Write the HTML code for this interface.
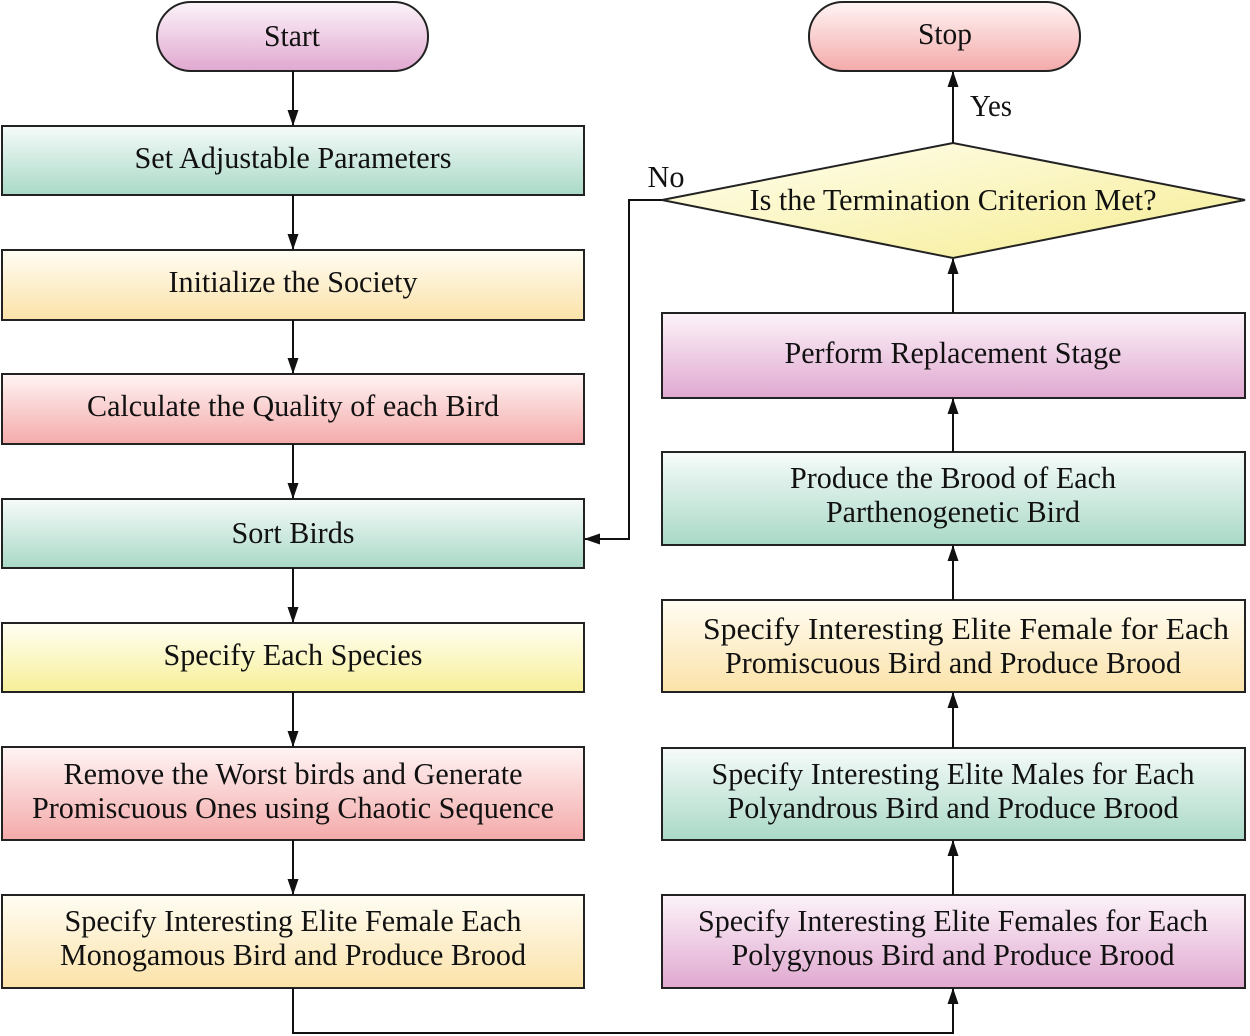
<!DOCTYPE html>
<html><head><meta charset="utf-8"><style>
html,body{margin:0;padding:0;background:#fff}
svg{display:block}
text{font-family:"Liberation Serif",serif;font-size:31px;fill:#111;text-anchor:middle}
</style></head><body>
<svg width="1250" height="1036" viewBox="0 0 1250 1036" xmlns="http://www.w3.org/2000/svg">
<defs>
<linearGradient id="g" x1="0" y1="0" x2="0" y2="1"><stop offset="0" stop-color="#f6fbf9"/><stop offset="1" stop-color="#a9d9c7"/></linearGradient>
<linearGradient id="o" x1="0" y1="0" x2="0" y2="1"><stop offset="0" stop-color="#fffdf4"/><stop offset="1" stop-color="#fbe2a8"/></linearGradient>
<linearGradient id="r" x1="0" y1="0" x2="0" y2="1"><stop offset="0" stop-color="#fff4f4"/><stop offset="1" stop-color="#f4aaaa"/></linearGradient>
<linearGradient id="p" x1="0" y1="0" x2="0" y2="1"><stop offset="0" stop-color="#fcf3f9"/><stop offset="1" stop-color="#e0a8d0"/></linearGradient>
<linearGradient id="y" x1="0" y1="0" x2="0" y2="1"><stop offset="0" stop-color="#fffff4"/><stop offset="1" stop-color="#f7ef98"/></linearGradient>
<linearGradient id="yd" x1="0" y1="0" x2="1" y2="1"><stop offset="0" stop-color="#fffff2"/><stop offset="1" stop-color="#f6ec90"/></linearGradient>
<marker id="a" markerWidth="16" markerHeight="14" refX="15" refY="7" orient="auto" markerUnits="userSpaceOnUse"><path d="M0,1.5 L16,7 L0,12.5 z" fill="#111"/></marker>
</defs>
<g stroke="#222" stroke-width="2">
<rect x="157" y="2" width="271" height="69" rx="34" fill="url(#p)"/>
<rect x="809" y="2" width="271" height="69" rx="34" fill="url(#r)"/>
<rect x="2" y="126" width="582" height="69" fill="url(#g)"/>
<rect x="2" y="250" width="582" height="70" fill="url(#o)"/>
<rect x="2" y="374" width="582" height="70" fill="url(#r)"/>
<rect x="2" y="499" width="582" height="69" fill="url(#g)"/>
<rect x="2" y="623" width="582" height="69" fill="url(#y)"/>
<rect x="2" y="747" width="582" height="93" fill="url(#r)"/>
<rect x="2" y="895" width="582" height="93" fill="url(#o)"/>
<polygon points="662,200 953,143 1245,200 953,258" fill="url(#yd)"/>
<rect x="662" y="313" width="583" height="85" fill="url(#p)"/>
<rect x="662" y="452" width="583" height="93" fill="url(#g)"/>
<rect x="662" y="600" width="583" height="92" fill="url(#o)"/>
<rect x="662" y="748" width="583" height="92" fill="url(#g)"/>
<rect x="662" y="895" width="583" height="93" fill="url(#p)"/>
</g>
<g stroke="#111" stroke-width="2" fill="none" marker-end="url(#a)">
<line x1="293" y1="71" x2="293" y2="125"/>
<line x1="293" y1="195" x2="293" y2="249"/>
<line x1="293" y1="320" x2="293" y2="373"/>
<line x1="293" y1="444" x2="293" y2="498"/>
<line x1="293" y1="568" x2="293" y2="622"/>
<line x1="293" y1="692" x2="293" y2="746"/>
<line x1="293" y1="840" x2="293" y2="894"/>
<polyline points="293,988 293,1033 953,1033 953,989"/>
<line x1="953" y1="895" x2="953" y2="841"/>
<line x1="953" y1="748" x2="953" y2="693"/>
<line x1="953" y1="600" x2="953" y2="546"/>
<line x1="953" y1="452" x2="953" y2="399"/>
<line x1="953" y1="313" x2="953" y2="259"/>
<line x1="953" y1="143" x2="953" y2="72"/>
<polyline points="662,200 629,200 629,539 585,539"/>
</g>
<g lengthAdjust="spacingAndGlyphs">
<text x="292" y="46" textLength="56" lengthAdjust="spacingAndGlyphs">Start</text>
<text x="945" y="44" textLength="54" lengthAdjust="spacingAndGlyphs">Stop</text>
<text x="293" y="168" textLength="317" lengthAdjust="spacingAndGlyphs">Set Adjustable Parameters</text>
<text x="293" y="292" textLength="249" lengthAdjust="spacingAndGlyphs">Initialize the Society</text>
<text x="293" y="416" textLength="412" lengthAdjust="spacingAndGlyphs">Calculate the Quality of each Bird</text>
<text x="293" y="543" textLength="123" lengthAdjust="spacingAndGlyphs">Sort Birds</text>
<text x="293" y="665" textLength="259" lengthAdjust="spacingAndGlyphs">Specify Each Species</text>
<text x="293" y="784" textLength="459" lengthAdjust="spacingAndGlyphs">Remove the Worst birds and Generate</text>
<text x="293" y="818" textLength="522" lengthAdjust="spacingAndGlyphs">Promiscuous Ones using Chaotic Sequence</text>
<text x="293" y="931" textLength="457" lengthAdjust="spacingAndGlyphs">Specify Interesting Elite Female Each</text>
<text x="293" y="965" textLength="466" lengthAdjust="spacingAndGlyphs">Monogamous Bird and Produce Brood</text>
<text x="953" y="210" textLength="407" lengthAdjust="spacingAndGlyphs">Is the Termination Criterion Met?</text>
<text x="666" y="187" textLength="37" lengthAdjust="spacingAndGlyphs">No</text>
<text x="991" y="116" textLength="42" lengthAdjust="spacingAndGlyphs">Yes</text>
<text x="953" y="363" textLength="337" lengthAdjust="spacingAndGlyphs">Perform Replacement Stage</text>
<text x="953" y="488" textLength="326" lengthAdjust="spacingAndGlyphs">Produce the Brood of Each</text>
<text x="953" y="522" textLength="254" lengthAdjust="spacingAndGlyphs">Parthenogenetic Bird</text>
<text x="966" y="639" textLength="526" lengthAdjust="spacingAndGlyphs">Specify Interesting Elite Female for Each</text>
<text x="953" y="673" textLength="456" lengthAdjust="spacingAndGlyphs">Promiscuous Bird and Produce Brood</text>
<text x="953" y="784" textLength="483" lengthAdjust="spacingAndGlyphs">Specify Interesting Elite Males for Each</text>
<text x="953" y="818" textLength="451" lengthAdjust="spacingAndGlyphs">Polyandrous Bird and Produce Brood</text>
<text x="953" y="931" textLength="510" lengthAdjust="spacingAndGlyphs">Specify Interesting Elite Females for Each</text>
<text x="953" y="965" textLength="443" lengthAdjust="spacingAndGlyphs">Polygynous Bird and Produce Brood</text>
</g>
</svg>
</body></html>
